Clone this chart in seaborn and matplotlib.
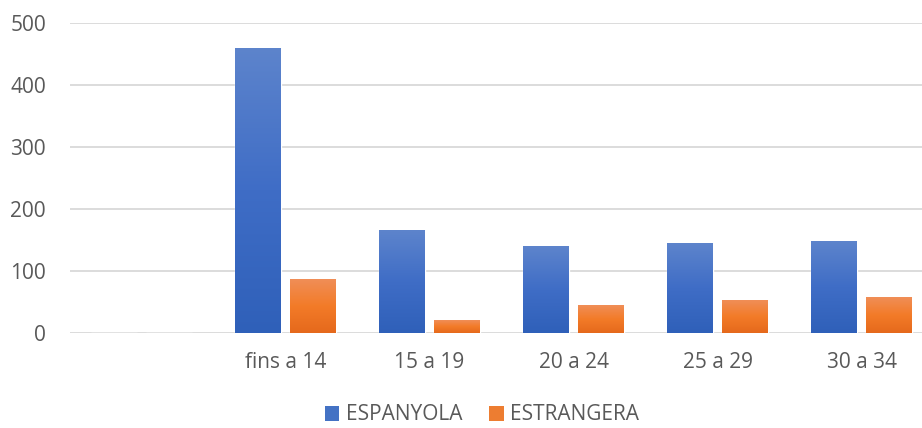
import numpy as np
import pandas as pd
import matplotlib
matplotlib.use("Agg")
import matplotlib.pyplot as plt
import matplotlib.patheffects as pe
from matplotlib.colors import LinearSegmentedColormap
from matplotlib.patches import Patch
import seaborn as sns

categories = ["", "fins a 14", "15 a 19", "20 a 24", "25 a 29", "30 a 34"]
espanyola = [0, 460, 166, 140, 145, 148]
estrangera = [0, 87, 20, 45, 53, 58]
series_names = ["ESPANYOLA", "ESTRANGERA"]
y_ticks = [0, 100, 200, 300, 400, 500]

df = pd.DataFrame({
    "cat": categories * 2,
    "val": espanyola + estrangera,
    "serie": [series_names[0]] * len(categories) + [series_names[1]] * len(categories),
})

sns.set_theme(style="white")
plt.rcParams["font.family"] = ["Open Sans", "DejaVu Sans"]

W, H = 922, 428
fig = plt.figure(figsize=(W / 100, H / 100), dpi=100)
left, right = 69.5 / W, 1.0
bottom, top = (H - 332.7) / H, (H - 22.7) / H
ax = fig.add_axes([left, bottom, right - left, top - bottom])

blue = "#4472C4"
orange = "#ED7D31"
sns.barplot(data=df, x="cat", y="val", hue="serie", order=categories,
            hue_order=series_names, palette=[blue, orange], width=0.764,
            gap=0.164, ax=ax, legend=False, saturation=1)

grads = {
    0: LinearSegmentedColormap.from_list("b", ["#2F60B9", "#3F6DC6", "#5D84CC"]),
    1: LinearSegmentedColormap.from_list("o", ["#E5691C", "#F37B28", "#F08E57"]),
}
patches = list(ax.patches)
n = len(categories)
for i, p in enumerate(patches):
    s = i // n
    x0, y0 = p.get_x(), p.get_y()
    w, h = p.get_width(), p.get_height()
    if h <= 0:
        continue
    p.set_path_effects([pe.SimplePatchShadow(offset=(0, -2), shadow_rgbFace="#000000", alpha=0.12), pe.Normal()])
    grad = np.linspace(0, 1, 256).reshape(-1, 1)
    im = ax.imshow(grad, cmap=grads[s], origin="lower", aspect="auto",
                   extent=[x0, x0 + w, y0, y0 + h], zorder=p.get_zorder() + 0.1)
    im.set_clip_path(p)

ax.set_xlim(-0.5, -0.5 + (W - 69.5) / 144.0)
ax.set_ylim(0, 500)
ax.set_yticks(y_ticks)
ax.set_yticklabels([str(v) for v in y_ticks])
ax.yaxis.grid(True, color="#D9D9D9", linewidth=1.3)
ax.set_axisbelow(True)
for sp in ax.spines.values():
    sp.set_visible(False)
ax.set_xlabel("")
ax.set_ylabel("")
ax.tick_params(axis="both", length=0, labelsize=15, colors="#595959")
ax.tick_params(axis="x", pad=14)
ax.tick_params(axis="y", pad=17)

handles = [Patch(facecolor=blue, edgecolor="none"), Patch(facecolor=orange, edgecolor="none")]
leg = fig.legend(handles, series_names, loc="center", bbox_to_anchor=(482 / W, 1 - 415 / H),
                 ncol=2, frameon=False, fontsize=15, handlelength=0.7, handleheight=0.7,
                 handletextpad=0.3, columnspacing=1.3, labelcolor="#595959")

fig.savefig("out.png", dpi=100)
